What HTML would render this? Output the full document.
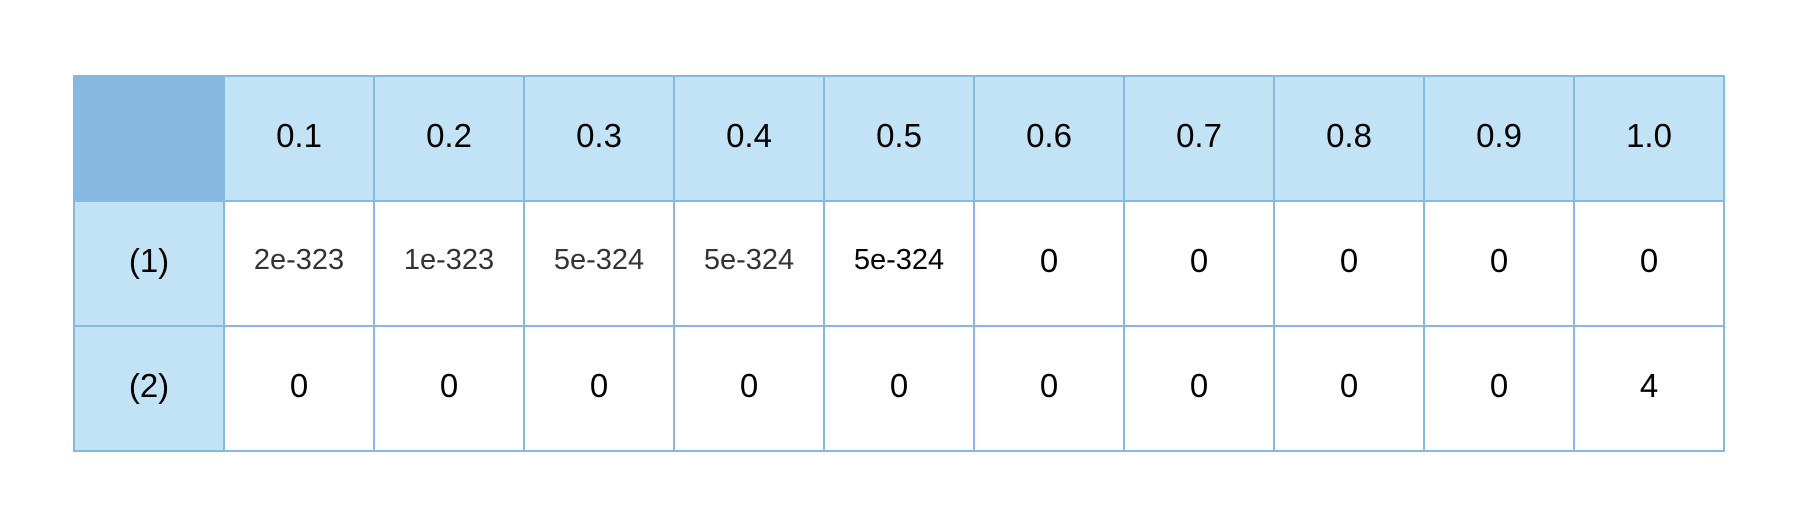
<!DOCTYPE html>
<html><head><meta charset="utf-8"><style>
html,body{margin:0;padding:0;background:#fff;width:1800px;height:525px;overflow:hidden;font-family:"Liberation Sans",sans-serif}
table{position:absolute;left:73px;top:75px;border-collapse:collapse}
td{width:150px;height:125px;box-sizing:border-box;border:2px solid #85b9e2;text-align:center;vertical-align:middle;font-size:33px;color:#000;padding:0 0 6px 0}
.h{background:#c2e3f5}
.c{background:#85b9e2}
.s{font-size:29px;color:#333}
</style></head><body>
<table>
<tr>
<td class="c"></td>
<td class="h">0.1</td>
<td class="h">0.2</td>
<td class="h">0.3</td>
<td class="h">0.4</td>
<td class="h">0.5</td>
<td class="h">0.6</td>
<td class="h">0.7</td>
<td class="h">0.8</td>
<td class="h">0.9</td>
<td class="h">1.0</td>
</tr>
<tr>
<td class="h">(1)</td>
<td class="s">2e-323</td>
<td class="s">1e-323</td>
<td class="s">5e-324</td>
<td class="s">5e-324</td>
<td class="s" style="color:#000">5e-324</td>
<td>0</td>
<td>0</td>
<td>0</td>
<td>0</td>
<td>0</td>
</tr>
<tr>
<td class="h">(2)</td>
<td>0</td>
<td>0</td>
<td>0</td>
<td>0</td>
<td>0</td>
<td>0</td>
<td>0</td>
<td>0</td>
<td>0</td>
<td>4</td>
</tr>
</table>
</body></html>
